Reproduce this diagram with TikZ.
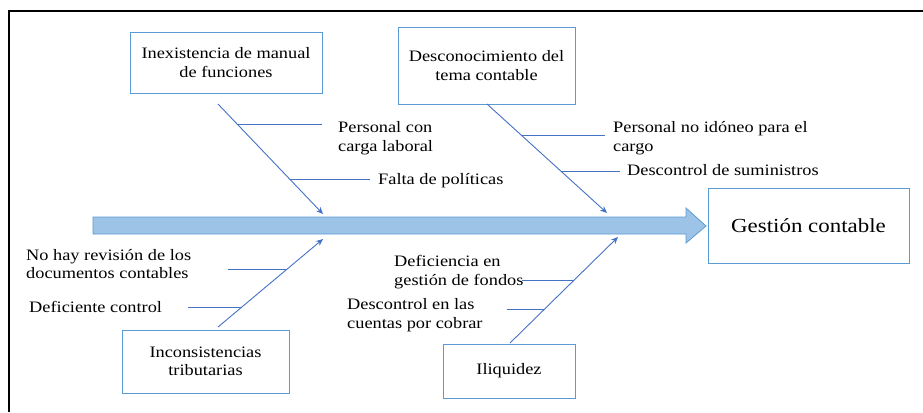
\documentclass[tikz,border=0pt]{standalone}
\usepackage{fontspec}
\setmainfont{Liberation Serif}[FakeStretch=1.15]
\usetikzlibrary{calc,arrows.meta}
\definecolor{boxblue}{RGB}{91,155,213}
\definecolor{boneblue}{RGB}{68,114,196}
\definecolor{arrowfill}{RGB}{157,195,230}
\tikzset{
  causebox/.style={draw=boxblue, line width=0.9bp, fill=white, align=center, inner sep=0pt},
  lbl/.style={anchor=west, inner sep=0pt, align=left, font=\fontsize{16}{18.6}\selectfont},
  bone/.style={draw=boneblue, line width=0.9bp},
  bonearrow/.style={bone, -{Stealth[length=7bp,width=6bp]}},
}
\begin{document}
\begin{tikzpicture}[x=1bp,y=-1bp]
\useasboundingbox (0,0) rectangle (923,412);
% frame
\draw[line width=1.6bp] (9,412) -- (9,11) -- (923,11);
% main arrow
\draw[draw=boxblue, fill=arrowfill, line width=0.8bp]
  (93,217) -- (686,217) -- (686,208) -- (706,226) -- (686,243) -- (686,234) -- (93,234) -- cycle;
% boxes
\node[causebox, minimum width=192bp, minimum height=61bp, font=\fontsize{16}{18.6}\selectfont] (b1) at (226,62.5) {Inexistencia de manual\\de funciones};
\node[causebox, minimum width=177bp, minimum height=77bp, font=\fontsize{16}{18.6}\selectfont] (b2) at (486.5,65.5) {Desconocimiento del\\tema contable};
\node[causebox, minimum width=201bp, minimum height=75bp, font=\fontsize{20}{23}\selectfont] (g) at (808.5,225.5) {Gestión contable};
\node[causebox, minimum width=167bp, minimum height=63bp, font=\fontsize{16}{18.6}\selectfont] (b3) at (205.5,361.5) {Inconsistencias\\tributarias};
\node[causebox, minimum width=132bp, minimum height=54bp, font=\fontsize{16}{18.6}\selectfont] (b4) at (509,371) {Iliquidez};
% bone coordinates
\coordinate (s1) at (218,104); \coordinate (e1) at (323,214);
\coordinate (s2) at (487,104); \coordinate (e2) at (607,213);
\coordinate (s3) at (218,327); \coordinate (e3) at (323,239);
\coordinate (s4) at (510,343); \coordinate (e4) at (618,237);
\draw[bonearrow] (s1) -- (e1);
\draw[bonearrow] (s2) -- (e2);
\draw[bonearrow] (s3) -- (e3);
\draw[bonearrow] (s4) -- (e4);
% labels
\node[lbl] (l1) at (338,138) {Personal con\\carga laboral};
\node[lbl] (l2) at (378,181) {Falta de políticas};
\node[lbl] (l3) at (613,138) {Personal no idóneo para el\\cargo};
\node[lbl] (l4) at (627,170) {Descontrol de suministros};
\node[lbl] (l5) at (26,264) {No hay revisión de los\\documentos contables};
\node[lbl] (l6) at (29,307) {Deficiente control};
\node[lbl] (l7) at (394,272) {Deficiencia en\\gestión de fondos};
\node[lbl] (l8) at (347,315) {Descontrol en las\\cuentas por cobrar};
% branch points on bones
\coordinate (p1) at ($(s1)!0.19!(e1)$);
\coordinate (p2) at ($(s1)!0.69!(e1)$);
\coordinate (p3) at ($(s2)!0.284!(e2)$);
\coordinate (p4) at ($(s2)!0.615!(e2)$);
\coordinate (p5) at ($(s3)!0.659!(e3)$);
\coordinate (p6) at ($(s3)!0.227!(e3)$);
\coordinate (p7) at ($(s4)!0.594!(e4)$);
\coordinate (p8) at ($(s4)!0.32!(e4)$);
% free ends of branches
\coordinate (f1) at (322,0); \coordinate (f2) at (370,0);
\coordinate (f3) at (605,0); \coordinate (f4) at (620,0);
\coordinate (f5) at (228,0); \coordinate (f6) at (188,0);
\coordinate (f7) at (522,0); \coordinate (f8) at (507,0);
\draw[bone] (p1) -- (p1 -| f1);
\draw[bone] (p2) -- (p2 -| f2);
\draw[bone] (p3) -- (p3 -| f3);
\draw[bone] (p4) -- (p4 -| f4);
\draw[bone] (p5) -- (p5 -| f5);
\draw[bone] (p6) -- (p6 -| f6);
\draw[bone] (p7) -- (p7 -| f7);
\draw[bone] (p8) -- (p8 -| f8);
\end{tikzpicture}
\end{document}
